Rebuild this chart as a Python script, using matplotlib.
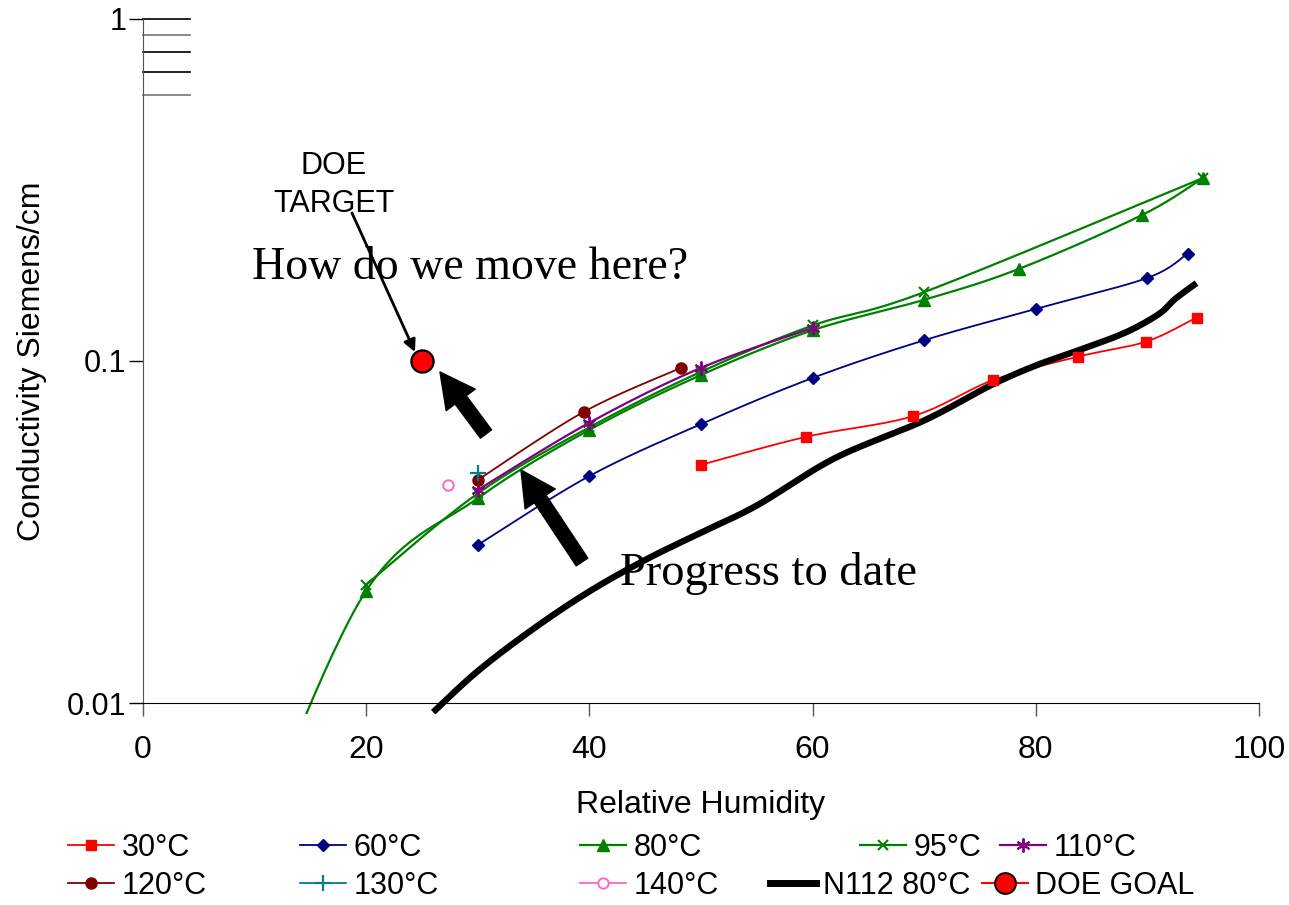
import numpy as np
import matplotlib
matplotlib.use('Agg')
import matplotlib.pyplot as plt
from matplotlib.lines import Line2D
from matplotlib.patches import Rectangle

# ---------------- data ----------------
rh_30 = [50, 59.4, 69, 76.2, 83.8, 89.9, 94.4]
s_30 = [0.0497, 0.060, 0.069, 0.088, 0.103, 0.114, 0.134]

rh_60 = [30, 40, 50, 60, 70, 80, 90, 93.6]
s_60 = [0.029, 0.0461, 0.0654, 0.0892, 0.115, 0.142, 0.175, 0.206]

rh_80 = [10, 20, 30, 40, 50, 60, 70, 78.5, 89.5, 95]
s_80 = [0.004, 0.0213, 0.0397, 0.0629, 0.091, 0.123, 0.151, 0.186, 0.267, 0.343]

rh_95 = [20, 30, 40, 50, 60, 70, 95]
s_95 = [0.0222, 0.041, 0.064, 0.093, 0.127, 0.159, 0.343]

rh_110 = [30, 40, 50, 60]
s_110 = [0.042, 0.066, 0.0955, 0.125]

rh_120 = [30, 39.5, 48.2]
s_120 = [0.0449, 0.071, 0.0955]

rh_130 = [30]
s_130 = [0.047]

rh_140 = [27.3]
s_140 = [0.0434]

rh_n112 = [26, 30, 35, 40, 45, 50, 55, 62, 70, 76, 80, 84, 88, 91, 92.5, 94.4]
s_n112 = [0.0094, 0.0124, 0.0165, 0.0212, 0.0262, 0.0315, 0.0378, 0.052, 0.067,
          0.085, 0.097, 0.108, 0.121, 0.137, 0.152, 0.169]

rh_goal = [25]
s_goal = [0.1]

x_ticks = [0, 20, 40, 60, 80, 100]
y_ticks = [0.01, 0.1, 1]
y_ticklabels = ['0.01', '0.1', '1']

# ---------------- helpers ----------------
def smooth(xs, ys, n=30):
    """Excel-like smoothed line (Catmull-Rom) in x / log10(y) space."""
    x = np.asarray(xs, float)
    y = np.log10(np.asarray(ys, float))
    if len(x) < 2:
        return x, 10 ** y
    P = np.column_stack([x, y])
    P = np.vstack([P[0], P, P[-1]])
    out = []
    for i in range(1, len(P) - 2):
        p0, p1, p2, p3 = P[i - 1], P[i], P[i + 1], P[i + 2]
        t = np.linspace(0, 1, n)[:, None]
        c1 = p1 + (p2 - p0) / 6
        c2 = p2 - (p3 - p1) / 6
        seg = ((1 - t) ** 3) * p1 + 3 * ((1 - t) ** 2) * t * c1 + 3 * (1 - t) * t ** 2 * c2 + t ** 3 * p2
        out.append(seg if i == 1 else seg[1:])
    out = np.vstack(out)
    return out[:, 0], 10 ** out[:, 1]

SANS = 'Liberation Sans'
SERIF = 'Liberation Serif'
FS = 23

W, H = 1289, 905
fig = plt.figure(figsize=(W / 100, H / 100), dpi=100)
ax = fig.add_axes([143 / W, 1 - 703 / H, (1259 - 143) / W, (703 - 19) / H])
ax.set_yscale('log')
ax.set_xlim(0, 100)
ax.set_ylim(0.01, 1)

clip = Rectangle((0, -0.016), 1, 1.032, transform=ax.transAxes, visible=False)
ax.add_patch(clip)

series = [
    (rh_30, s_30, '30°C', dict(color='#FF0000', marker='s', ms=7.5, mfc='#FF0000', mec='#FF0000'), 1.3),
    (rh_60, s_60, '60°C', dict(color='#000080', marker='D', ms=6.5, mfc='#000080', mec='#000080'), 1.3),
    (rh_80, s_80, '80°C', dict(color='#008000', marker='^', ms=8.5, mfc='#008000', mec='#008000'), 1.6),
    (rh_95, s_95, '95°C', dict(color='#008000', marker='x', ms=7.5, mew=1.5, mfc='#008000', mec='#008000'), 1.6),
    (rh_110, s_110, '110°C', dict(color='#800080', marker=(6, 2, 0), ms=10, mew=1.4, mec='#800080'), 1.6),
    (rh_120, s_120, '120°C', dict(color='#800000', marker='o', ms=8, mfc='#800000', mec='#800000'), 1.3),
    (rh_130, s_130, '130°C', dict(color='#008080', marker='+', ms=11, mew=1.6, mec='#008080'), 1.3),
    (rh_140, s_140, '140°C', dict(color='#FF66CC', marker='o', ms=7.5, mfc='white', mew=1.4, mec='#FF66CC'), 1.3),
]

handles = []
for xs, ys, lab, st, lw in series:
    sx, sy = smooth(xs, ys)
    ln, = ax.plot(sx, sy, color=st['color'], lw=lw, solid_capstyle='butt')
    ln.set_clip_path(clip)
    mk = {k: v for k, v in st.items() if k != 'color'}
    pts = [(x, y) for x, y in zip(xs, ys) if y >= 0.01]
    if pts:
        px, py = zip(*pts)
        ax.plot(px, py, ls='none', **mk, zorder=4)
    handles.append(Line2D([], [], color=st['color'], lw=lw, **mk))

sx, sy = smooth(rh_n112, s_n112)
ln, = ax.plot(sx, sy, color='black', lw=4.6, solid_capstyle='butt')
ln.set_clip_path(clip)
handles.append(Line2D([], [], color='black', lw=5))

ax.plot(rh_goal, s_goal, ls='none', marker='o', ms=16, mfc='#FF0000', mec='black', mew=1.6, zorder=6)
handles.append(Line2D([], [], color='#FF0000', lw=1.5, marker='o', ms=15, mfc='#FF0000', mec='black', mew=1.4))
labels = [s[2] for s in series] + ['N112 80°C', 'DOE GOAL']

# ---------------- axes styling ----------------
for s in ['top', 'right']:
    ax.spines[s].set_visible(False)
ax.spines['left'].set_color('#555555')
ax.spines['bottom'].set_color('black')
ax.set_xticks(x_ticks)
ax.set_xticklabels([str(v) for v in x_ticks])
ax.set_yticks(y_ticks)
ax.set_yticklabels(y_ticklabels)
ax.yaxis.set_minor_locator(matplotlib.ticker.NullLocator())
ax.tick_params(axis='x', direction='out', length=9, width=1, color='#555555', labelsize=FS, pad=14)
ax.tick_params(axis='y', direction='out', length=10, width=1, color='black', labelsize=FS - 1, pad=2)
for lab in ax.get_xticklabels() + ax.get_yticklabels():
    lab.set_fontfamily(SANS)

# short lines at top of y axis
for yv, c in zip([1.0, 0.9, 0.8, 0.7, 0.6], ['black', '#777777', 'black', 'black', '#777777']):
    ax.plot([0, 4.2], [yv, yv], color=c, lw=1.2, clip_on=False)

ax.set_xlabel('Relative Humidity', fontsize=FS, family=SANS, labelpad=18)
ax.set_ylabel('Conductivity Siemens/cm', fontsize=FS, family=SANS, labelpad=14)

# ---------------- annotations ----------------
def d(px, py):
    return ((px - 143) / 11.16, 10 ** (-(py - 19) / 342))

ax.text(*d(334, 185), 'DOE\nTARGET', ha='center', va='center', fontsize=FS - 1,
        family=SANS, linespacing=1.35)
ax.annotate('', xy=d(415, 352), xytext=d(352, 213),
            arrowprops=dict(arrowstyle='-|>', color='black', lw=2, mutation_scale=18, shrinkA=0, shrinkB=0))
ax.text(*d(252, 268), 'How do we move here?', ha='left', va='center', fontsize=33,
        family=SERIF)
ax.text(*d(620, 573), 'Progress to date', ha='left', va='center', fontsize=33.5,
        family=SERIF)

big = dict(width=10, headwidth=26, headlength=25, facecolor='black', edgecolor='black')
ax.annotate('', xy=d(440, 372), xytext=d(486, 434), arrowprops=big)
ax.annotate('', xy=d(521, 470), xytext=d(582, 562), arrowprops=big)

# ---------------- legend ----------------
pos = [(68, 848), (300, 848), (580, 848), (860, 848), (1000, 848),
       (68, 886), (300, 886), (580, 886), (770, 886), (982, 886)]
for h, l, (px, py) in zip(handles, labels, pos):
    fig.legend(handles=[h], labels=[l], loc='center left', bbox_to_anchor=(px / W, 1 - py / H),
               frameon=False, prop={'family': SANS, 'size': 22},
               handlelength=1.5, handletextpad=0.25, borderpad=0, borderaxespad=0)

fig.savefig('out.png', dpi=100)
